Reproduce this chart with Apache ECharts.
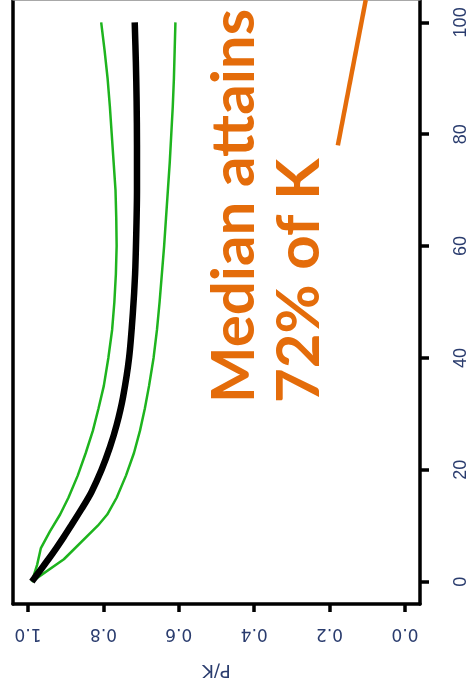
<!DOCTYPE html>
<html>
<head>
<meta charset="utf-8">
<script src="https://cdn.jsdelivr.net/npm/echarts@6/dist/echarts.min.js"></script>
<style>
  html, body { margin: 0; padding: 0; background: #ffffff; }
  #chart { width: 476px; height: 692px; }
</style>
</head>
<body>
<div id="chart"></div>
<script>
// Time axis (vertical, right side) and P/K axis (bottom, reversed)
const timeTicks = [0, 20, 40, 60, 80, 100];
const pkTicks = [0, 0.2, 0.4, 0.6, 0.8, 1.0];

// Median trajectory of P/K over time
const timeMedian = [0, 2, 4, 6, 8, 10, 13, 16, 20, 24, 28, 33, 40, 48, 55, 62, 70, 78, 86, 93, 100];
const pkMedian   = [0.99, 0.968, 0.946, 0.925, 0.905, 0.886, 0.858, 0.832, 0.805, 0.783, 0.765, 0.748, 0.732, 0.722, 0.716, 0.713, 0.711, 0.711, 0.712, 0.714, 0.717];

// Upper quantile band
const timeUpper = [0, 3, 6, 9, 12, 15, 19, 23, 27, 31, 35, 40, 45, 50, 55, 60, 65, 70, 75, 80, 85, 90, 95, 100];
const pkUpper   = [0.99, 0.976, 0.966, 0.942, 0.915, 0.893, 0.868, 0.847, 0.828, 0.813, 0.799, 0.787, 0.777, 0.771, 0.767, 0.765, 0.766, 0.768, 0.773, 0.778, 0.783, 0.789, 0.797, 0.806];

// Lower quantile band
const timeLower = [0, 4, 10, 12, 15, 19, 23, 27, 31, 35, 40, 45, 50, 55, 60, 65, 70, 75, 80, 85, 90, 95, 100];
const pkLower   = [0.99, 0.905, 0.815, 0.790, 0.765, 0.740, 0.719, 0.703, 0.690, 0.679, 0.667, 0.658, 0.651, 0.645, 0.639, 0.634, 0.629, 0.624, 0.620, 0.616, 0.613, 0.611, 0.609];

// Pointer from the annotation towards the top of the plot
const pointerTime = [78, 104];
const pointerPk   = [0.178, 0.104];

const annotationLines = ['Median attains', '72% of K'];

const pairs = (xs, ys) => xs.map((t, i) => [ys[i], t]);

const labelColor = '#2a3c6e';
const orange = '#E46C0A';
const green = '#1eb41e';

const chart = echarts.init(document.getElementById('chart'), null, { renderer: 'canvas' });

chart.setOption({
  backgroundColor: '#ffffff',
  animation: false,
  grid: { left: 13, right: 56, top: 0, bottom: 88, containLabel: false, outerBoundsMode: 'none' },
  xAxis: [
    {
      type: 'value', position: 'bottom', min: -0.04, max: 1.04, inverse: true,
      axisLine: { show: true, onZero: false, lineStyle: { color: '#000', width: 3.5 } },
      axisTick: { show: true, length: 8, customValues: pkTicks, lineStyle: { color: '#000', width: 3.5 } },
      axisLabel: {
        customValues: pkTicks, rotate: 180, margin: 21,
        formatter: v => v.toFixed(1),
        fontSize: 17, fontFamily: 'DejaVu Sans', color: labelColor
      },
      splitLine: { show: false },
      name: 'P/K', nameLocation: 'middle', nameGap: 57, nameRotate: 180,
      nameTextStyle: { fontSize: 18, fontFamily: 'DejaVu Sans', color: labelColor }
    },
    {
      type: 'value', position: 'top', min: -0.04, max: 1.04, inverse: true,
      axisLine: { show: true, onZero: false, lineStyle: { color: '#8c8c8c', width: 1.5 } },
      axisTick: { show: false }, axisLabel: { show: false }, splitLine: { show: false }
    }
  ],
  yAxis: [
    {
      type: 'value', position: 'right', min: -4, max: 104,
      axisLine: { show: true, onZero: false, lineStyle: { color: '#000', width: 3.5 } },
      axisTick: { show: true, length: 9, customValues: timeTicks, lineStyle: { color: '#000', width: 3.5 } },
      axisLabel: {
        customValues: timeTicks, rotate: 90, margin: 32,
        fontSize: 18, fontFamily: '"Liberation Sans Narrow", "Liberation Sans", sans-serif', color: labelColor
      },
      splitLine: { show: false }
    },
    {
      type: 'value', position: 'left', min: -4, max: 104,
      axisLine: { show: true, onZero: false, lineStyle: { color: '#000', width: 3.5 } },
      axisTick: { show: false }, axisLabel: { show: false }, splitLine: { show: false }
    }
  ],
  series: [
    {
      name: 'upper', type: 'line', xAxisIndex: 0, yAxisIndex: 0,
      data: pairs(timeUpper, pkUpper), showSymbol: false,
      lineStyle: { color: green, width: 2.5 }
    },
    {
      name: 'lower', type: 'line', xAxisIndex: 0, yAxisIndex: 0,
      data: pairs(timeLower, pkLower), showSymbol: false,
      lineStyle: { color: green, width: 2.5 }
    },
    {
      name: 'median', type: 'line', xAxisIndex: 0, yAxisIndex: 0,
      data: pairs(timeMedian, pkMedian), showSymbol: false, smooth: 0.3,
      lineStyle: { color: '#000', width: 6.5 }
    },
    {
      name: 'pointer', type: 'line', xAxisIndex: 0, yAxisIndex: 0,
      data: pairs(pointerTime, pointerPk), showSymbol: false, clip: true,
      lineStyle: { color: orange, width: 4.5, cap: 'butt' }
    }
  ],
  graphic: annotationLines.map((txt, i) => ({
    type: 'text',
    x: 235 + i * 65,
    y: 403,
    rotation: Math.PI / 2,
    style: {
      text: txt,
      font: 'bold 60px Lato',
      fill: orange,
      textAlign: 'left',
      textVerticalAlign: 'middle'
    }
  }))
});
</script>
</body>
</html>
